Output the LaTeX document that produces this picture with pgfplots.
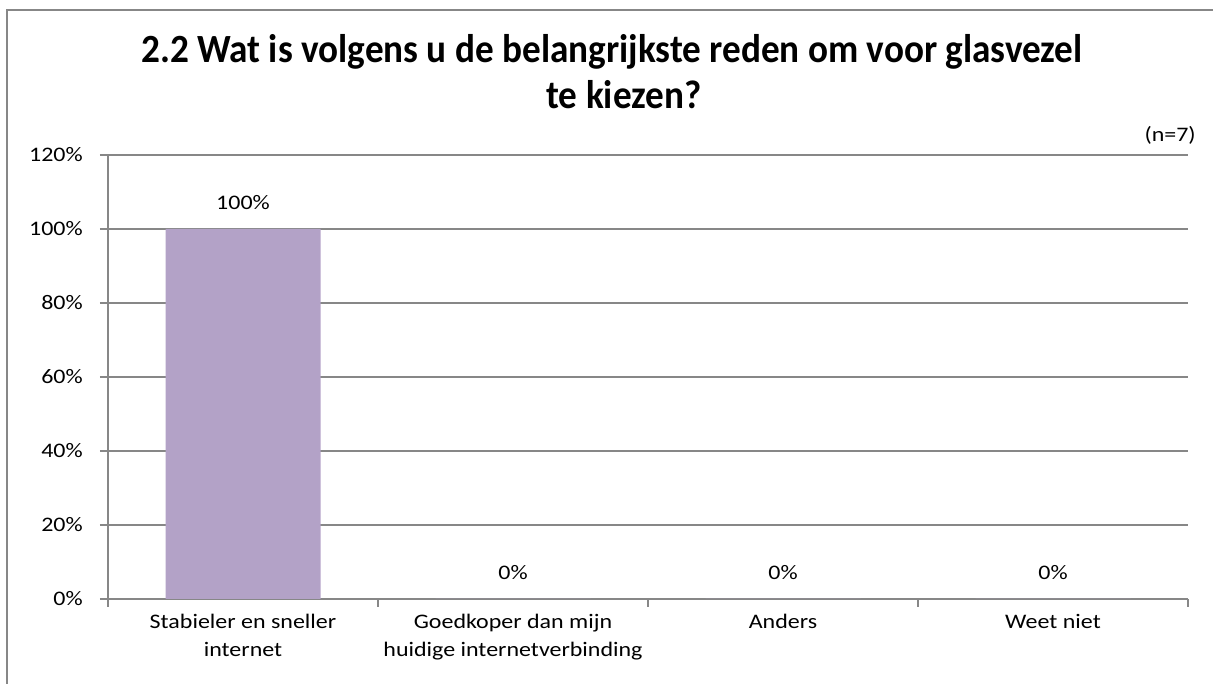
\documentclass[border=0pt]{standalone}
\usepackage{fontspec}
\setmainfont[FakeStretch=1.16]{Carlito}
\newfontfamily\titlefont[FakeStretch=0.93]{Carlito}
\usepackage{pgfplots}
\pgfplotsset{compat=1.18}
\definecolor{barpurple}{HTML}{B3A2C7}
\definecolor{gridgray}{HTML}{878787}
\begin{document}
\begin{tikzpicture}[x=0.75pt,y=0.75pt]
\path[use as bounding box] (0,0) rectangle (1213,684);
% chart frame (only top and left edge visible)
\draw[gridgray, line width=1.5pt] (7,-5) -- (7,673.5) -- (1220,673.5);
\node[font=\titlefont\fontsize{30}{36}\selectfont\bfseries] at (612,632) {2.2 Wat is volgens u de belangrijkste reden om voor glasvezel};
\node[font=\titlefont\fontsize{30}{36}\selectfont\bfseries] at (624,589) {te kiezen?};
\node[font=\fontsize{15.5}{21}\selectfont, anchor=east, inner sep=0pt] at (1196,549) {(n=7)};
\begin{axis}[
    at={(81pt,63.75pt)}, anchor=south west,
    width=810pt, height=333pt, scale only axis,
    /pgf/number format/assume math mode=true,
    font=\fontsize{15.5}{21}\selectfont,
    ybar, bar width=116.25pt, bar shift=0pt,
    xmin=-0.5, xmax=3.5, ymin=0, ymax=120,
    axis x line*=bottom, axis y line*=left,
    axis line style={gridgray, line width=0.9pt},
    ytick={0,20,...,120},
    yticklabels={0\%,20\%,40\%,60\%,80\%,100\%,120\%},
    xtick={0,1,2,3},
    xticklabels={Stabieler en sneller\\internet, Goedkoper dan mijn\\huidige internetverbinding, Anders, Weet niet},
    minor xtick={-0.5,0.5,1.5,2.5,3.5},
    tick align=outside,
    major tick length=6pt, minor tick length=6pt,
    major x tick style={draw=none},
    tick style={gridgray, line width=0.9pt},
    ymajorgrids, grid style={gridgray, line width=0.9pt},
    xticklabel style={align=center, anchor=north, inner sep=0pt, yshift=-5pt, text depth=0pt},
    yticklabel style={anchor=east, inner sep=0pt, xshift=-12.75pt},
    nodes near coords={\pgfmathprintnumber{\pgfplotspointmeta}\%},
    every node near coord/.append style={anchor=south, inner sep=0pt, yshift=14pt, black},
]
\addplot[fill=barpurple, draw=none] coordinates {(0,100) (1,0) (2,0) (3,0)};
\end{axis}
\end{tikzpicture}
\end{document}
